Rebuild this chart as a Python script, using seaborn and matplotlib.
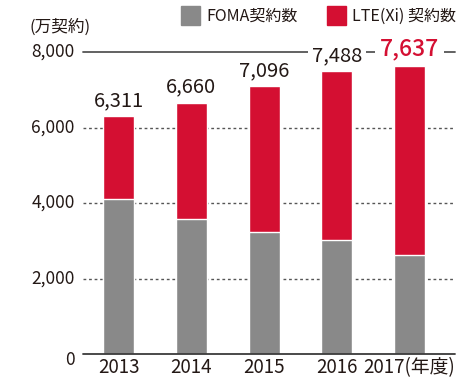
import matplotlib
matplotlib.use("Agg")
import matplotlib.pyplot as plt
import matplotlib.transforms as mtransforms
import seaborn as sns
import pandas as pd
from matplotlib.patches import Rectangle

# Subscriptions (10k contracts) by fiscal year
years = ["2013", "2014", "2015", "2016", "2017"]
year_labels = ["2013", "2014", "2015", "2016", "2017(年度)"]
totals = [6311, 6660, 7096, 7488, 7637]
foma = [4106, 3576, 3240, 3020, 2623]
total_labels = ["6,311", "6,660", "7,096", "7,488", "7,637"]
yticks = [0, 2000, 4000, 6000, 8000]
ytick_labels = ["0", "2,000", "4,000", "6,000", "8,000"]

GRAY = "#898989"
RED = "#d40f32"
TEXT = "#231815"

sns.set_theme(style="white")
plt.rcParams["font.family"] = ["Noto Sans CJK JP", "DejaVu Sans"]

df = pd.DataFrame({"year": years, "total": totals, "foma": foma})

fig = plt.figure(figsize=(4.57, 3.79), dpi=100)
ax = fig.add_axes([83 / 457, 25 / 379, 372 / 457, 302 / 379])

# Total height in red, FOMA portion in gray over it
sns.barplot(data=df, x="year", y="total", color=RED, saturation=1,
            width=0.426, ax=ax, zorder=3)
sns.barplot(data=df, x="year", y="foma", color=GRAY, saturation=1,
            width=0.426, ax=ax, zorder=4)

ax.set_xlim(-0.488, 4.625)
ax.set_ylim(0, 8000)
ax.set_xlabel("")
ax.set_ylabel("")
for s in ax.spines.values():
    s.set_visible(False)

# Dotted gridlines and solid top/bottom rules
for v in [2000, 4000, 6000]:
    ax.axhline(v, color="#555555", lw=1.0, ls=(0, (2, 2)), zorder=1)
ax.axhline(8000, color="#555555", lw=1.3, zorder=1, clip_on=False)
ax.axhline(0, color="#3a3a3a", lw=1.3, zorder=5, clip_on=False)

ax.set_yticks(yticks)
ax.set_yticklabels(ytick_labels)
ax.tick_params(axis="y", length=0, pad=6, labelsize=12.5, labelcolor=TEXT)
ax.set_xticks(range(len(years)))
ax.set_xticklabels(year_labels)
ax.tick_params(axis="x", length=0, pad=2, labelsize=13.5, labelcolor=TEXT)
for t in ax.get_yticklabels():
    t.set_verticalalignment("center")
zero_lab = ax.get_yticklabels()[0]
zero_lab.set_transform(zero_lab.get_transform() +
                       mtransforms.ScaledTranslation(0, -6 / 100, fig.dpi_scale_trans))

# Value labels above each stack
for i, (v, lab) in enumerate(zip(totals, total_labels)):
    last = i == len(totals) - 1
    ax.annotate(lab, (i, v), xytext=(0, 3.5),
                textcoords="offset points", ha="center", va="bottom",
                fontsize=16.5 if last else 14.5,
                fontweight="medium" if last else "normal",
                color=RED if last else TEXT, zorder=6,
                bbox=dict(boxstyle="square,pad=0.2", fc="white", ec="none"))

# Unit label
fig.text(30 / 457, 1 - 27 / 379, "(万契約)", fontsize=12, color=TEXT,
         ha="left", va="center")

# Legend
for x0, col, lab in [(181, GRAY, "FOMA契約数"), (327, RED, "LTE(Xi) 契約数")]:
    fig.patches.append(Rectangle((x0 / 457, 1 - 25 / 379), 19 / 457, 19 / 379,
                                 transform=fig.transFigure, color=col))
    fig.text((x0 + 25) / 457, 1 - 16 / 379, lab, fontsize=11.5, color=TEXT,
             ha="left", va="center")

fig.savefig("out.png", dpi=100)
